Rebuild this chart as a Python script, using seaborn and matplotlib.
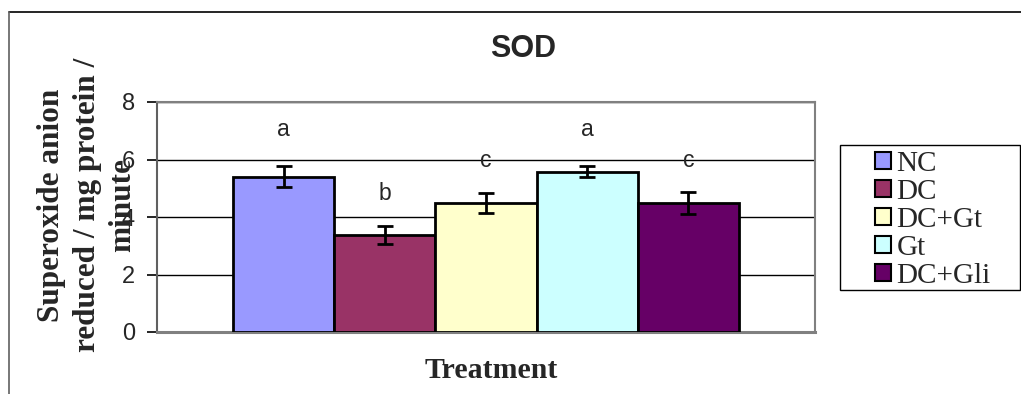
import matplotlib
matplotlib.use("Agg")
import matplotlib.pyplot as plt
import seaborn as sns
import pandas as pd
from matplotlib.lines import Line2D
from matplotlib.patches import Rectangle

groups = ["NC", "DC", "DC+Gt", "Gt", "DC+Gli"]
values = [5.40, 3.37, 4.48, 5.58, 4.48]
errors = [0.36, 0.32, 0.34, 0.19, 0.38]
letters = ["a", "b", "c", "a", "c"]
letter_y = [7.03, 4.83, 5.95, 7.03, 5.95]
colors = ["#9999FF", "#993366", "#FFFFCC", "#CCFFFF", "#660066"]
yticks = [0, 2, 4, 6, 8]

sns.set_style("white")
plt.rcParams["font.family"] = ["Liberation Sans", "DejaVu Sans"]

df = pd.DataFrame({"cat": ["SOD"] * len(groups), "group": groups, "value": values})

fig = plt.figure(figsize=(10.21, 3.94), dpi=100)
W, H = 1021, 394
ax = fig.add_axes([157 / W, 1 - 332 / H, (815 - 157) / W, (332 - 102) / H])

sns.barplot(data=df, x="cat", y="value", hue="group", hue_order=groups,
            palette=colors, saturation=1, edgecolor="black", linewidth=2, width=0.769,
            errorbar=None, ax=ax, legend=False, zorder=3)

ax.set_xlim(-0.5, 0.5)
ax.set_ylim(0, 8)
ax.set_yticks(yticks)
ax.set_yticklabels([str(t) for t in yticks], fontsize=17, family=["Liberation Sans"])
ax.tick_params(axis="y", direction="out", length=7, width=1.2, color="black", pad=9, left=True)
ax.set_xticks([])
ax.set_ylabel("")
ax.set_xlabel("")

for t in yticks[1:]:
    ax.axhline(t, color="black", lw=1, zorder=1)

for side in ["top", "right", "bottom", "left"]:
    ax.spines[side].set_color("#808080")
    ax.spines[side].set_linewidth(1.5)
ax.spines["bottom"].set_linewidth(2.2)
ax.spines["left"].set_color("#606060")

bars = [p for p in ax.patches][:len(groups)]
bars = sorted(bars, key=lambda p: p.get_x())
for p, v, e, l, ly in zip(bars, values, errors, letters, letter_y):
    cx = p.get_x() + p.get_width() / 2
    ax.errorbar(cx, v, yerr=e, fmt="none", ecolor="black", elinewidth=2,
                capsize=6, capthick=2, zorder=4)
    ax.text(cx, ly, l, ha="center", va="center", fontsize=16.5,
            family=["Liberation Sans"], zorder=5)

fig.text(523 / W, 1 - 49 / H, "SOD", ha="center", va="center", fontsize=22,
         fontweight="bold", family=["Liberation Sans"])
fig.text(491 / W, 1 - 371 / H, "Treatment", ha="center", va="center", fontsize=21.5,
         fontweight="bold", family=["Liberation Serif"])
fig.text(87 / W, 1 - 205 / H, "Superoxide anion\nreduced / mg protein /\nminute",
         ha="center", va="center", rotation=90, multialignment="center",
         fontsize=22.5, fontweight="bold", family=["Liberation Serif"], linespacing=1.3)

handles = [plt.Rectangle((0, 0), 1, 1, facecolor=c, edgecolor="black", lw=1.5) for c in colors]
leg = fig.legend(handles, groups, loc="upper left", bbox_to_anchor=(866 / W, 1 - 142 / H),
                 bbox_transform=fig.transFigure, frameon=False,
                 prop={"family": "Liberation Serif", "size": 21},
                 handlelength=0.55, handleheight=0.55, handletextpad=0.2,
                 labelspacing=0.07, borderpad=0.3, borderaxespad=0)

fig.add_artist(Rectangle((840 / W, 1 - 290 / H), (1020 - 840) / W, (290 - 145) / H,
                         transform=fig.transFigure, facecolor="none", edgecolor="black", lw=1))

fig.add_artist(Line2D([9 / W, 1.0], [1 - 12 / H, 1 - 12 / H], transform=fig.transFigure,
                      color="black", lw=1.2))
fig.add_artist(Line2D([9 / W, 9 / W], [1 - 12 / H, 0], transform=fig.transFigure,
                      color="#606060", lw=1.2))

fig.savefig("out.png", dpi=100)
